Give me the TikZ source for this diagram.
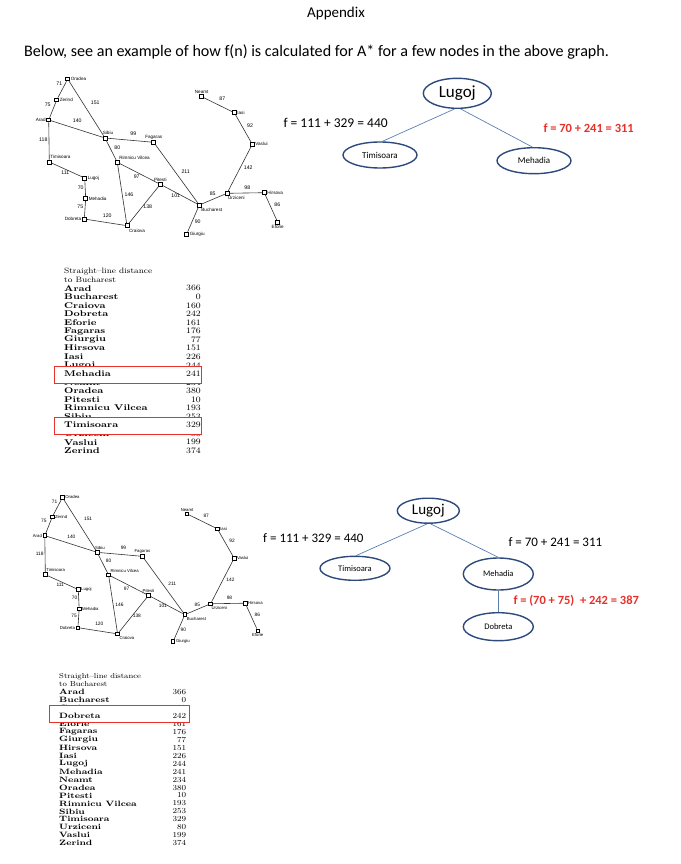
\documentclass[tikz,border=0pt]{standalone}
\usepackage{fontspec}
\newfontfamily\calib{Carlito}
\newfontfamily\arsans{Liberation Sans}
\usetikzlibrary{shapes.geometric}
\definecolor{navy}{HTML}{2E4A7D}
\definecolor{edgeb}{HTML}{5B7FB5}
\definecolor{redt}{HTML}{E8312A}
\tikzset{
  city/.style={draw, rectangle, minimum size=3.8, inner sep=0, line width=0.8, fill=white},
  clab/.style={font=\arsans\fontsize{4.6}{5}\selectfont, inner sep=0.6},
  wlab/.style={font=\arsans\fontsize{5.2}{6}\selectfont, inner sep=0},
  road/.style={line width=0.6, draw=black!80},
  tnode/.style={draw=navy, line width=1.4, ellipse, inner sep=0},
  tedge/.style={draw=edgeb, line width=0.7},
  ftext/.style={font=\calib\fontsize{13.5}{15}\selectfont, inner sep=0},
  fred/.style={font=\calib\bfseries\fontsize{12.5}{15}\selectfont, text=redt, inner sep=0},
  sname/.style={anchor=west, inner sep=0, font=\bfseries\fontsize{8.3}{8.3}\selectfont, xscale=1.22, transform shape},
  snum/.style={anchor=east, inner sep=0, font=\fontsize{8.3}{8.3}\selectfont, xscale=1.1, transform shape},
  stitle/.style={anchor=west, inner sep=0, font=\fontsize{7.8}{7.8}\selectfont, xscale=1.12, transform shape},
  rbox/.style={draw=redt, line width=1, fill=white}
}
\newcommand\slrow[3]{%
  \node[sname] at (64,{288.3+8.55*#1}) {#2};
  \node[snum] at (201,{288.3+8.55*#1}) {#3};}
\newcommand\leftpanel[1]{%
  \foreach \a/\b/\x/\y in {ora/zer/67.7/79,zer/ara/56.7/100,ora/sib/67.7/79,ara/sib/48.7/120,ara/tim/48.7/120,tim/lug/49.3/162,lug/meh/84.7/178,meh/dob/85.7/198.7,dob/cra/84.3/219,sib/fag/105/138,sib/rim/105/138,rim/pit/117.3/162.3,rim/cra/117.3/162.3,cra/pit/127/225.7,pit/buc/160.3/184.3,fag/buc/153.7/142.3,buc/giu/199.3/205,buc/urz/199.3/205,urz/hir/227/193.3,hir/efo/264.3/192.7,urz/vas/227/193.3,vas/ias/252.3/144.3,ias/nea/234.3/112.7}
    {\coordinate (#1c\a) at (\x,\y);}
  \node[city,label={[clab]right:Oradea}] (#1ora) at (67.7,79) {};
  \node[city,label={[clab]right:Zerind}] (#1zer) at (56.7,100) {};
  \node[city,label={[clab]left:Arad}] (#1ara) at (48.7,120) {};
  \node[city,label={[clab,xshift=-2]above right:Timisoara}] (#1tim) at (49.3,162) {};
  \node[city,label={[clab]right:Lugoj}] (#1lug) at (84.7,178) {};
  \node[city,label={[clab]right:Mehadia}] (#1meh) at (85.7,198.7) {};
  \node[city,label={[clab]left:Dobreta}] (#1dob) at (84.3,219) {};
  \node[city,label={[clab,xshift=-1]below right:Craiova}] (#1cra) at (127,225.7) {};
  \node[city,label={[clab,xshift=3]above:Sibiu}] (#1sib) at (105,138) {};
  \node[city,label={[clab,xshift=-1]above right:Rimnicu Vilcea}] (#1rim) at (117.3,162.3) {};
  \node[city,label={[clab]above:Fagaras}] (#1fag) at (153.7,142.3) {};
  \node[city,label={[clab]above:Pitesti}] (#1pit) at (160.3,184.3) {};
  \node[city,label={[clab,xshift=-1]below right:Bucharest}] (#1buc) at (199.3,205) {};
  \node[city,label={[clab]right:Giurgiu}] (#1giu) at (186.7,234) {};
  \node[city,label={[clab,xshift=-2]below right:Urziceni}] (#1urz) at (227,193.3) {};
  \node[city,label={[clab]right:Hirsova}] (#1hir) at (264.3,192.7) {};
  \node[city,label={[clab]below:Eforie}] (#1efo) at (277.7,222.3) {};
  \node[city,label={[clab]right:Vaslui}] (#1vas) at (252.3,144.3) {};
  \node[city,label={[clab]right:Iasi}] (#1ias) at (234.3,112.7) {};
  \node[city,label={[clab]above:Neamt}] (#1nea) at (201.7,96.7) {};
  \foreach \a/\b in {ora/zer,zer/ara,ora/sib,ara/sib,ara/tim,tim/lug,lug/meh,meh/dob,dob/cra,sib/fag,sib/rim,rim/pit,rim/cra,cra/pit,pit/buc,fag/buc,buc/giu,buc/urz,urz/hir,hir/efo,urz/vas,vas/ias,ias/nea}
    \draw[road] (#1\a) -- (#1\b);
  \foreach \w/\x/\y in {71/59.3/84,75/47.7/104.3,151/95.3/102.3,140/77.3/121,118/43.3/140,99/133.3/133.3,80/117.3/147.3,111/65.3/172.7,97/136.7/176.7,211/185.7/171.7,70/80.7/187.3,146/129/194.3,101/175.7/196,75/80.3/206.7,138/147.7/206.7,120/107.3/215.3,90/197.7/221.7,85/212.7/194,98/247.3/187.3,86/277.3/205,142/248.3/167.7,92/250/126,87/222.3/99}
    \node[wlab] at (\x,\y) {\w};
  \node[stitle] at (64,271.5) {Straight--line distance};
  \node[stitle] at (64,279.5) {to Bucharest};
  \slrow{0}{Arad}{366}\slrow{1}{Bucharest}{0}\slrow{2}{Craiova}{160}
  \slrow{3}{Dobreta}{242}\slrow{4}{Eforie}{161}\slrow{5}{Fagaras}{176}
  \slrow{6}{Giurgiu}{77}\slrow{7}{Hirsova}{151}\slrow{8}{Iasi}{226}
  \slrow{9}{Lugoj}{244}\slrow{10}{Mehadia}{241}\slrow{11}{Neamt}{234}
  \slrow{12}{Oradea}{380}\slrow{13}{Pitesti}{10}\slrow{14}{Rimnicu Vilcea}{193}
  \slrow{15}{Sibiu}{253}\slrow{16}{Timisoara}{329}\slrow{17}{Urziceni}{80}
  \slrow{18}{Vaslui}{199}\slrow{19}{Zerind}{374}
}
\begin{document}
\begin{tikzpicture}[x=1pt,y=-1pt]
\useasboundingbox[fill=white] (0,0) rectangle (680,864);
% header
\node[font=\calib\fontsize{15}{17}\selectfont] at (336,14) {Appendix};
\node[font=\calib\fontsize{16.1}{18}\selectfont, anchor=west, inner sep=0] at (24,52) {Below, see an example of how f(n) is calculated for A* for a few nodes in the above graph.};
% left panel 1
\leftpanel{a}
\draw[rbox] (54,366) rectangle (201.7,383.3);
\slrow{10}{Mehadia}{241}
\draw[rbox] (54,417.3) rectangle (201.7,434.3);
\slrow{16}{Timisoara}{329}
% left panel 2
\begin{scope}[shift={(-0.5,424)}, scale=0.93, transform shape]
\leftpanel{b}
\draw[rbox] (53.5,302.2) rectangle (203.8,320.8);
\slrow{3}{Dobreta}{242}
\end{scope}
% tree 1
\node[tnode, minimum width=68, minimum height=30, font=\calib\fontsize{17}{18}\selectfont] (l1) at (457.3,93.3) {Lugoj};
\node[tnode, minimum width=74, minimum height=26, font=\calib\fontsize{9}{10}\selectfont] (t1) at (380,155) {Timisoara};
\node[tnode, minimum width=74, minimum height=26, font=\calib\fontsize{9}{10}\selectfont] (m1) at (534,160.7) {Mehadia};
\draw[tedge] (l1.-100) -- (t1.80);
\draw[tedge] (l1.-78) -- (m1.97);
\node[ftext, anchor=west] at (283.3,122.7) {f = 111 + 329 = 440};
\node[fred, anchor=west] at (543.3,128.3) {f = 70 + 241 = 311};
% tree 2
\node[tnode, minimum width=62, minimum height=25, font=\calib\fontsize{15}{16}\selectfont] (l2) at (428.3,510.7) {Lugoj};
\node[tnode, minimum width=70, minimum height=24, font=\calib\fontsize{8.5}{10}\selectfont] (t2) at (355,568.3) {Timisoara};
\node[tnode, minimum width=70, minimum height=32, font=\calib\fontsize{8.5}{10}\selectfont] (m2) at (498.3,574) {Mehadia};
\node[tnode, minimum width=70, minimum height=28, font=\calib\fontsize{8.5}{10}\selectfont] (d2) at (498.3,626.7) {Dobreta};
\draw[tedge] (l2.-95) -- (t2.85);
\draw[tedge] (l2.-80) -- (m2.90);
\draw[tedge] (m2.south) -- (d2.north);
\node[ftext, anchor=west, font=\calib\fontsize{13}{15}\selectfont] at (263,537.7) {f = 111 + 329 = 440};
\node[ftext, anchor=west, font=\calib\fontsize{13}{15}\selectfont] at (508.3,542.3) {f = 70 + 241 = 311};
\node[fred, anchor=west] at (513.3,600.7) {f = (70 + 75)~ + 242 = 387};
\end{tikzpicture}
\end{document}
